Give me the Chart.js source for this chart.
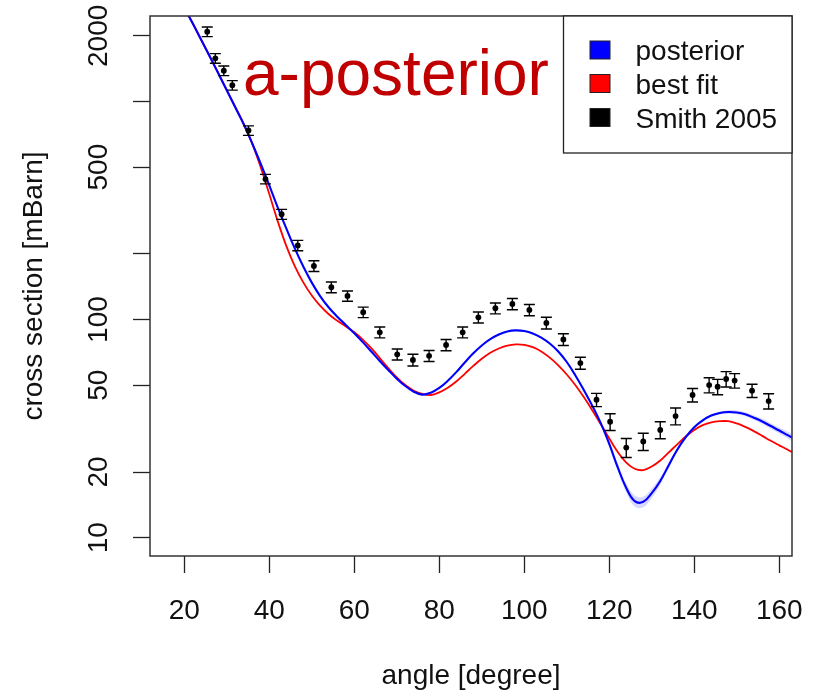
<!DOCTYPE html>
<html><head><meta charset="utf-8">
<script src="https://cdn.jsdelivr.net/npm/chart.js@4.4.0/dist/chart.umd.min.js"></script>
<style>html,body{margin:0;padding:0;background:#fff;} canvas{display:block;}</style>
</head><body>
<canvas id="c" width="819" height="692"></canvas>
<script>
// ---- data ----
const curveAngles = [18,20,22,24,26,28,30,32,34,36,38,40,42,44,46,48,50,52,54,56,58,60,62,64,66,68,70,72,74,76,78,80,82,84,86,88,90,92,94,96,98,100,102,104,106,108,110,112,114,116,118,120,122,124,126,128,130,132,134,136,138,140,142,144,146,148,150,152,154,156,158,160,162,163];
const posterior = [3192,2689,2278,1914,1608,1347,1125,941,786,642,517,412,326,262,212,175.1,147.7,127.8,113.6,103.1,94.5,86.6,78.8,71.4,64.6,58.7,53.6,49.6,46.7,45.3,46.2,48.6,52.4,57.4,63.6,70.0,76.1,81.3,85.4,88.2,89.2,88.6,86.4,82.7,77.7,71.4,63.9,55.6,47.6,40.3,33.5,26.9,21.0,16.9,14.7,14.6,16.0,18.2,21.5,25.3,28.9,32.1,34.5,36.3,37.3,37.7,37.5,36.8,35.5,34.1,32.5,31.0,29.5,28.8];
const bestFit = [3192,2689,2278,1914,1608,1347,1125,941,786,638.9,498.2,376.2,282.1,217.9,176.0,148.1,128.9,115.5,105.8,98.7,93.0,87.4,81.0,73.9,66.6,59.9,54.3,50.1,47.2,45.6,45.1,46.4,48.7,52.0,56.4,61.3,66.1,70.4,73.7,75.9,77.0,76.6,74.7,71.4,66.9,61.7,56.0,50.1,44.1,38.4,33.1,28.5,24.7,22.1,20.7,20.4,21.2,22.6,24.6,26.8,29.1,31.2,32.8,33.8,34.2,34.2,33.4,32.2,30.8,29.3,27.8,26.5,25.3,24.7];
const bandAngles = [110,112,114,116,118,120,122,124,126,128,130,132,134,136,138,140,142,144,146,148,150,152,154,156,158,160,162,163];
const bandUpper = [64.9,56.4,48.3,40.9,34.2,27.7,21.8,17.7,15.6,15.4,16.8,18.9,22.1,25.9,29.4,32.6,35.0,36.8,37.9,38.4,38.3,37.6,36.4,35.1,33.5,32.0,30.6,29.9];
const bandLower = [63.0,54.8,46.9,39.7,32.8,26.1,20.2,16.1,13.9,13.8,15.2,17.5,20.9,24.8,28.4,31.6,34.0,35.8,36.7,37.0,36.8,36.0,34.6,33.2,31.6,30.0,28.5,27.7];
const dataAngles = [25.4,27.3,29.3,31.3,35.1,39.1,42.9,46.7,50.5,54.6,58.4,62.1,66.0,70.1,73.8,77.6,81.6,85.5,89.2,93.2,97.2,101.2,105.2,109.2,113.2,117.0,120.2,124.0,128.0,132.0,135.6,139.6,143.5,145.5,147.5,149.5,153.6,157.5];
const dataValues = [2089,1578,1384,1187,736,441,304,218.7,176.1,140.7,128.3,108.1,87.4,69.3,65.3,68.2,76.5,87.4,102.4,112.7,117.9,110.7,96.5,81.1,63.2,42.9,34.0,25.9,27.6,31.2,36.1,45.1,50.1,49.2,53.4,52.5,47.2,42.3];
const dataErrors = [105,80,70,60,37,22,16,12,10,8,7,6,5,4,4,4,4.5,5,6,6.5,7,6.5,6,5,4,3,3,2.6,2.5,2.8,3.2,3.2,4,4,4.3,4,3.3,3.4];
const xTickValues = [20,40,60,80,100,120,140,160];
const xTickLabels = ['20','40','60','80','100','120','140','160'];
const yTickValues = [10,20,50,100,200,500,1000,2000];
const yTickLabels = ['10','20','50','100','','500','','2000'];
const legendLabels = ['posterior','best fit','Smith 2005'];
const legendColors = ['#0000ff','#ff0000','#000000'];
const titleText = 'a-posterior';
const xTitle = 'angle [degree]';
const yTitle = 'cross section [mBarn]';

const FONT = '"Liberation Sans", Arial, Helvetica, sans-serif';
const pts = (xs, ys) => xs.map((x, i) => ({x: x, y: ys[i]}));

const decor = {
  id: 'decor',
  afterDatasetsDraw(chart) {
    const ctx = chart.ctx, xs = chart.scales.x, ys = chart.scales.y;
    ctx.save();
    ctx.strokeStyle = '#000'; ctx.lineWidth = 1.4;
    dataAngles.forEach((a, i) => {
      const px = xs.getPixelForValue(a);
      const yt = ys.getPixelForValue(dataValues[i] + dataErrors[i]);
      const yb = ys.getPixelForValue(dataValues[i] - dataErrors[i]);
      ctx.beginPath();
      ctx.moveTo(px, yt); ctx.lineTo(px, yb);
      ctx.moveTo(px - 5.5, yt); ctx.lineTo(px + 5.5, yt);
      ctx.moveTo(px - 5.5, yb); ctx.lineTo(px + 5.5, yb);
      ctx.stroke();
    });
    ctx.restore();
  },
  afterDraw(chart) {
    const ctx = chart.ctx, xs = chart.scales.x, ys = chart.scales.y, ca = chart.chartArea;
    ctx.save();
    ctx.strokeStyle = '#333'; ctx.lineWidth = 1.5;
    ctx.strokeRect(ca.left, ca.top, ca.right - ca.left, ca.bottom - ca.top);
    ctx.fillStyle = '#111';
    ctx.font = '28px ' + FONT;
    ctx.textAlign = 'center'; ctx.textBaseline = 'alphabetic';
    xTickValues.forEach((v, i) => ctx.fillText(xTickLabels[i], xs.getPixelForValue(v), 619));
    yTickValues.forEach((v, i) => {
      if (!yTickLabels[i]) return;
      ctx.save();
      ctx.translate(107, ys.getPixelForValue(v));
      ctx.rotate(-Math.PI / 2);
      ctx.fillText(yTickLabels[i], 0, 0);
      ctx.restore();
    });
    ctx.fillText(xTitle, (ca.left + ca.right) / 2, 684);
    ctx.save();
    ctx.translate(42, (ca.top + ca.bottom) / 2);
    ctx.rotate(-Math.PI / 2);
    ctx.fillText(yTitle, 0, 0);
    ctx.restore();
    ctx.fillStyle = '#fff';
    ctx.fillRect(563.5, ca.top, ca.right - 563.5, 137);
    ctx.strokeStyle = '#222'; ctx.lineWidth = 1.3;
    ctx.strokeRect(563.5, ca.top, ca.right - 563.5, 137);
    const base = [60, 93.5, 127.5];
    ctx.textAlign = 'left';
    legendLabels.forEach((lab, i) => {
      ctx.fillStyle = legendColors[i];
      ctx.fillRect(590, base[i] - 19, 20, 18);
      ctx.strokeStyle = '#222'; ctx.lineWidth = 1;
      ctx.strokeRect(590, base[i] - 19, 20, 18);
      ctx.fillStyle = '#111';
      ctx.fillText(lab, 635.5, base[i]);
    });
    ctx.fillStyle = '#c00000';
    ctx.font = '64px ' + FONT;
    ctx.fillText(titleText, 243, 94.5);
    ctx.restore();
  }
};

const gridOpts = {drawOnChartArea: false, drawTicks: true, tickLength: 17, tickColor: '#222', tickWidth: 1.3};

new Chart(document.getElementById('c').getContext('2d'), {
  type: 'line',
  data: {
    datasets: [
      {label: 'Smith 2005', type: 'scatter', data: pts(dataAngles, dataValues), showLine: false,
       pointRadius: 2.9, pointBackgroundColor: '#000', pointBorderColor: '#000', pointBorderWidth: 0, order: 0},
      {label: 'posterior', data: pts(curveAngles, posterior), borderColor: '#0000ff', borderWidth: 2.1,
       pointRadius: 0, tension: 0.4, fill: false, order: 1},
      {label: 'best fit', data: pts(curveAngles, bestFit), borderColor: '#ff0000', borderWidth: 1.8,
       pointRadius: 0, tension: 0.4, fill: false, order: 2},
      {label: 'band upper', data: pts(bandAngles, bandUpper), borderColor: 'rgba(0,0,0,0)', borderWidth: 1,
       pointRadius: 0, tension: 0.4, fill: false, order: 3},
      {label: 'band lower', data: pts(bandAngles, bandLower), borderColor: 'rgba(0,0,0,0)', borderWidth: 1,
       pointRadius: 0, tension: 0.4, fill: '-1', backgroundColor: 'rgba(110,110,255,0.28)', order: 3}
    ]
  },
  options: {
    responsive: false,
    animation: false,
    events: [],
    layout: {padding: {left: 0, top: 16, right: 27, bottom: 0}},
    plugins: {legend: {display: false}, tooltip: {enabled: false}, title: {display: false}},
    scales: {
      x: {type: 'linear', position: 'bottom', min: 11.93, max: 163.0,
          afterBuildTicks: s => { s.ticks = xTickValues.map(v => ({value: v})); },
          afterFit: s => { s.height = 136; },
          ticks: {display: false}, grid: gridOpts, border: {display: false}},
      y: {type: 'logarithmic', position: 'left', min: 8.24, max: 2466,
          afterBuildTicks: s => { s.ticks = yTickValues.map(v => ({value: v})); },
          afterFit: s => { s.width = 150; },
          ticks: {display: false}, grid: gridOpts, border: {display: false}}
    }
  },
  plugins: [decor]
});
</script>
</body></html>
